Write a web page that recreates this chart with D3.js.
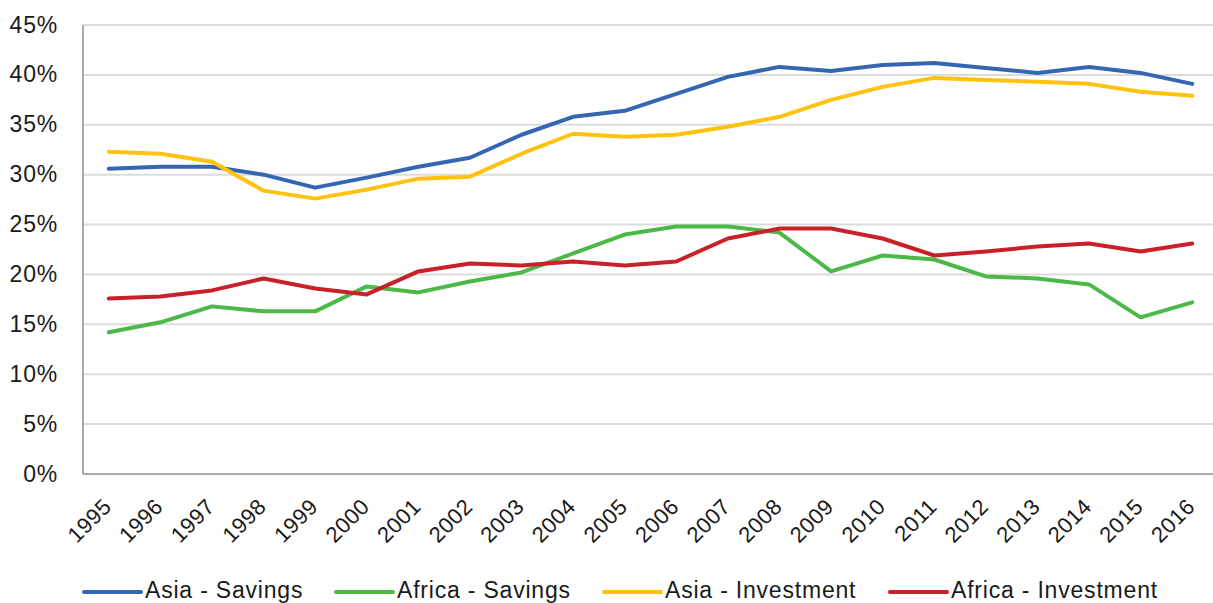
<!DOCTYPE html>
<html>
<head>
<meta charset="utf-8">
<script src="https://cdn.jsdelivr.net/npm/d3@7"></script>
<style>
  body { margin: 0; background: #fff; }
  svg text { font-family: "Liberation Sans", Arial, Helvetica, sans-serif; fill: #1a1a1a; }
</style>
</head>
<body>
<svg id="chart" width="1213" height="603"></svg>
<script>
const years = ["1995","1996","1997","1998","1999","2000","2001","2002","2003","2004","2005",
  "2006","2007","2008","2009","2010","2011","2012","2013","2014","2015","2016"];

const asiaSavings = [30.6, 30.8, 30.8, 30.0, 28.7, 29.7, 30.8, 31.7, 34.0, 35.8, 36.4,
  38.1, 39.8, 40.8, 40.4, 41.0, 41.2, 40.7, 40.2, 40.8, 40.2, 39.1];
const africaSavings = [14.2, 15.2, 16.8, 16.3, 16.3, 18.8, 18.2, 19.3, 20.2, 22.1, 24.0,
  24.8, 24.8, 24.2, 20.3, 21.9, 21.5, 19.8, 19.6, 19.0, 15.7, 17.2];
const asiaInvestment = [32.3, 32.1, 31.3, 28.4, 27.6, 28.5, 29.6, 29.8, 32.1, 34.1, 33.8,
  34.0, 34.8, 35.8, 37.5, 38.8, 39.7, 39.5, 39.3, 39.1, 38.3, 37.9];
const africaInvestment = [17.6, 17.8, 18.4, 19.6, 18.6, 18.0, 20.3, 21.1, 20.9, 21.3, 20.9,
  21.3, 23.6, 24.6, 24.6, 23.6, 21.9, 22.3, 22.8, 23.1, 22.3, 23.1];

const yTicks = [0, 5, 10, 15, 20, 25, 30, 35, 40, 45];

const series = [
  { name: "Asia - Savings", values: asiaSavings, color: "#3566b1" },
  { name: "Africa - Savings", values: africaSavings, color: "#4cb848" },
  { name: "Asia - Investment", values: asiaInvestment, color: "#ffc20e" },
  { name: "Africa - Investment", values: africaInvestment, color: "#c9202a" }
];

const svg = d3.select("#chart");
const plotLeft = 83, plotRight = 1218, plotTop = 25, plotBottom = 474;

const x = d3.scalePoint().domain(years).range([plotLeft, plotRight]).padding(0.5);
const y = d3.scaleLinear().domain([0, 45]).range([plotBottom, plotTop]);

// gridlines
svg.append("g")
  .selectAll("line")
  .data(yTicks.filter(d => d > 0))
  .enter().append("line")
  .attr("x1", plotLeft).attr("x2", plotRight)
  .attr("y1", d => y(d)).attr("y2", d => y(d))
  .attr("stroke", "#dcdcdc")
  .attr("stroke-width", 2);

// axis lines
svg.append("line")
  .attr("x1", plotLeft).attr("x2", plotLeft)
  .attr("y1", plotTop).attr("y2", plotBottom)
  .attr("stroke", "#8c8c8c").attr("stroke-width", 1.5);
svg.append("line")
  .attr("x1", plotLeft).attr("x2", plotRight)
  .attr("y1", plotBottom).attr("y2", plotBottom)
  .attr("stroke", "#8c8c8c").attr("stroke-width", 1.5);

// y labels
svg.append("g")
  .selectAll("text")
  .data(yTicks)
  .enter().append("text")
  .attr("x", 58)
  .attr("y", d => y(d))
  .attr("dy", "0.33em")
  .attr("text-anchor", "end")
  .style("font-size", "23px")
  .style("letter-spacing", "0.8px")
  .text(d => d + "%");

// x labels
svg.append("g")
  .selectAll("text")
  .data(years)
  .enter().append("text")
  .attr("transform", d => `translate(${x(d) + 4},${plotBottom + 34}) rotate(-45)`)
  .attr("text-anchor", "end")
  .style("font-size", "22px")
  .style("letter-spacing", "0.5px")
  .text(d => d);

// lines
const line = d3.line()
  .x((d, i) => x(years[i]))
  .y(d => y(d));

svg.append("g")
  .selectAll("path")
  .data(series)
  .enter().append("path")
  .attr("d", d => line(d.values))
  .attr("fill", "none")
  .attr("stroke", d => d.color)
  .attr("stroke-width", 4)
  .attr("stroke-linejoin", "round")
  .attr("stroke-linecap", "round");

// legend
const legendX = [84, 336, 604, 890];
const legend = svg.append("g")
  .selectAll("g")
  .data(series)
  .enter().append("g")
  .attr("transform", (d, i) => `translate(${legendX[i]},592)`);

legend.append("line")
  .attr("x1", 0).attr("x2", 57)
  .attr("y1", 0).attr("y2", 0)
  .attr("stroke", d => d.color)
  .attr("stroke-width", 4)
  .attr("stroke-linecap", "round");

legend.append("text")
  .attr("x", 61)
  .attr("y", 6)
  .style("font-size", "23px")
  .style("letter-spacing", "0.8px")
  .text(d => d.name);
</script>
</body>
</html>
